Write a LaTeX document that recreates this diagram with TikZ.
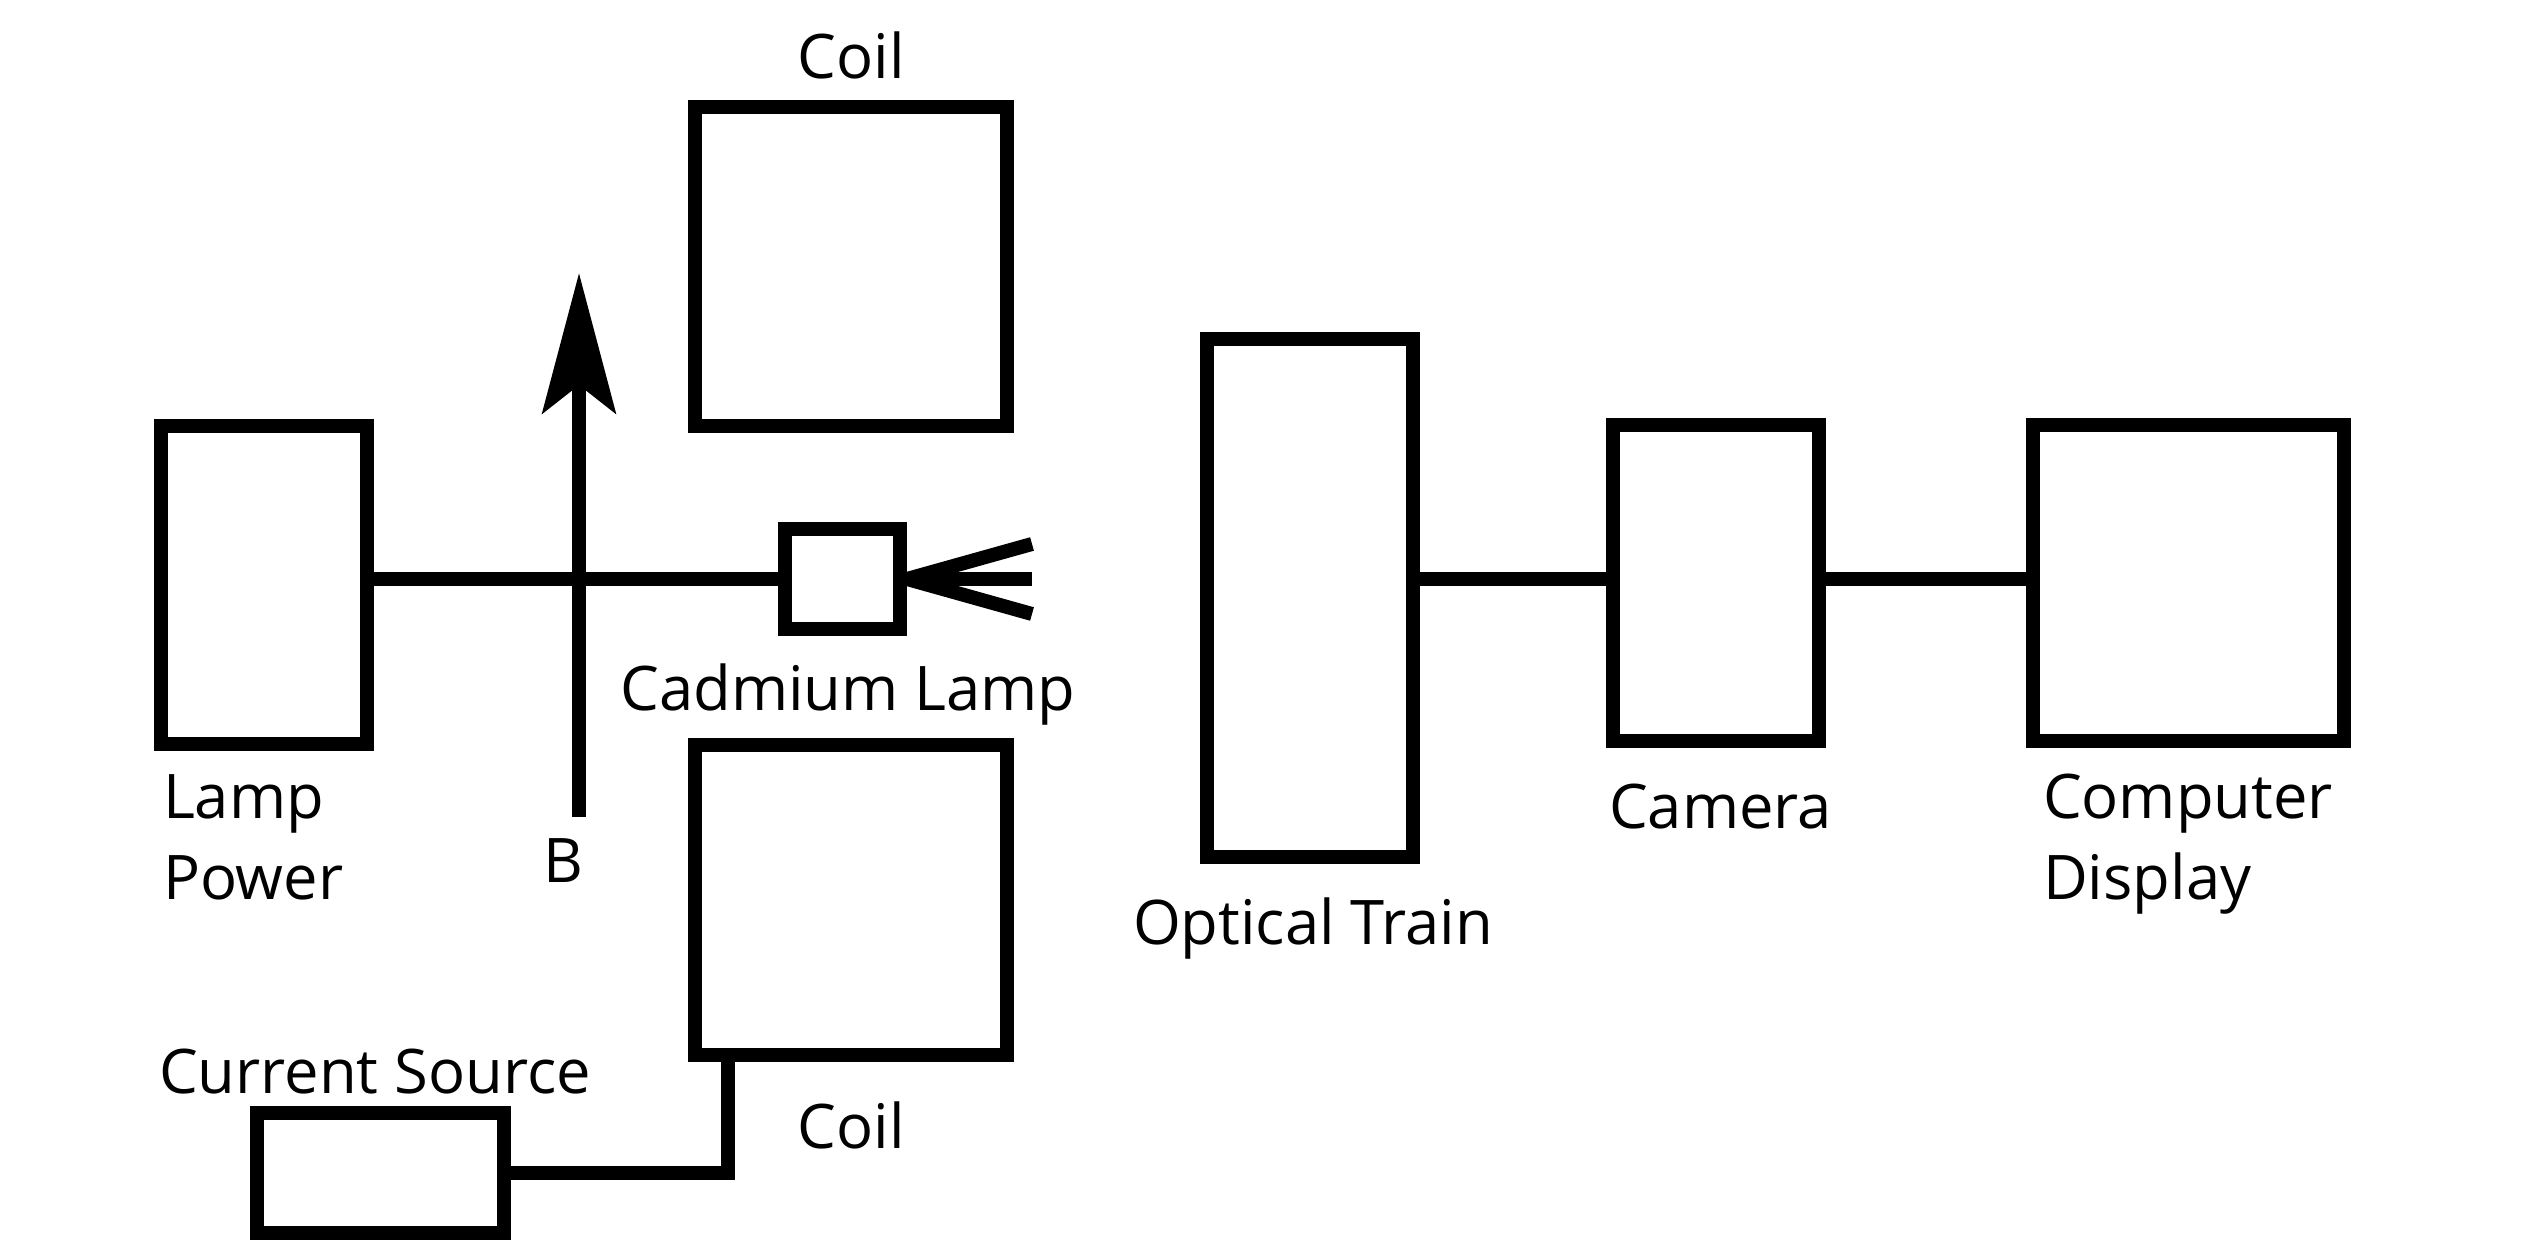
\documentclass[tikz,border=0pt]{standalone}
\usepackage{fontspec}
\setmainfont{Open Sans}
\usetikzlibrary{arrows.meta}
\begin{document}
\begin{tikzpicture}[x=1cm,y=-1cm,line width=0.14cm,
  box/.style={draw,rectangle,inner sep=0pt},
  lab/.style={inner sep=0pt,font=\fontsize{17.5pt}{23.3pt}\selectfont}]
  \useasboundingbox (0,0) rectangle (25.21,12.57);
  \coordinate (axis) at (0,5.79);
  % lamp side
  \node[box,minimum width=2.06cm,minimum height=3.18cm] at (2.64,5.85) (lamppower) {};
  \node[box,minimum width=3.12cm,minimum height=3.19cm] at (8.51,2.665) (coiltop) {};
  \node[box,minimum width=3.12cm,minimum height=3.10cm] at (8.51,9.00) (coilbot) {};
  \node[box,minimum width=1.15cm,minimum height=1.00cm] at (8.425,5.79) (lamp) {};
  \node[box,minimum width=2.47cm,minimum height=1.20cm] at (3.805,11.73) (source) {};
  % detection side
  \node[box,minimum width=2.06cm,minimum height=5.18cm] at (13.10,5.98) (optics) {};
  \node[box,minimum width=2.06cm,minimum height=3.16cm] at (17.16,5.83) (camera) {};
  \node[box,minimum width=3.11cm,minimum height=3.16cm] at (21.88,5.83) (display) {};

  \draw (lamppower.east |- axis) -- (lamp.west);
  \foreach \dy in {-0.35,0,0.35}
    \draw (lamp.east) -- ++(1.25,\dy);
  \coordinate (btail) at (5.79,8.17);
  \coordinate (bhead) at (5.79,2.73);
  \draw[-{Stealth[length=1.4cm,width=0.73cm,inset=0.28cm]}] (btail) -- (bhead);
  \coordinate (tap) at ([xshift=0.40cm]coilbot.south west);
  \draw (source.east) -| (tap);
  \draw (optics.east |- axis) -- (camera.west |- axis);
  \draw (camera.east |- axis) -- (display.west |- axis);

  \node[lab,anchor=base] at (8.51,0.79) {Coil};
  \node[lab,anchor=base] at (8.51,11.48) {Coil};
  \node[lab,anchor=base] at (8.48,7.11) {Cadmium Lamp};
  \node[lab,anchor=base west,align=left] at (1.56,9.00) {Lamp\\Power};
  \node[lab,anchor=base] at (5.63,8.83) {B};
  \node[lab,anchor=base west] at (1.52,10.93) {Current Source};
  \node[lab,anchor=base west] at (11.26,9.45) {Optical Train};
  \node[lab,anchor=base west] at (16.02,8.29) {Camera};
  \node[lab,anchor=base west,align=left] at (20.36,9.00) {Computer\\Display};
\end{tikzpicture}
\end{document}
